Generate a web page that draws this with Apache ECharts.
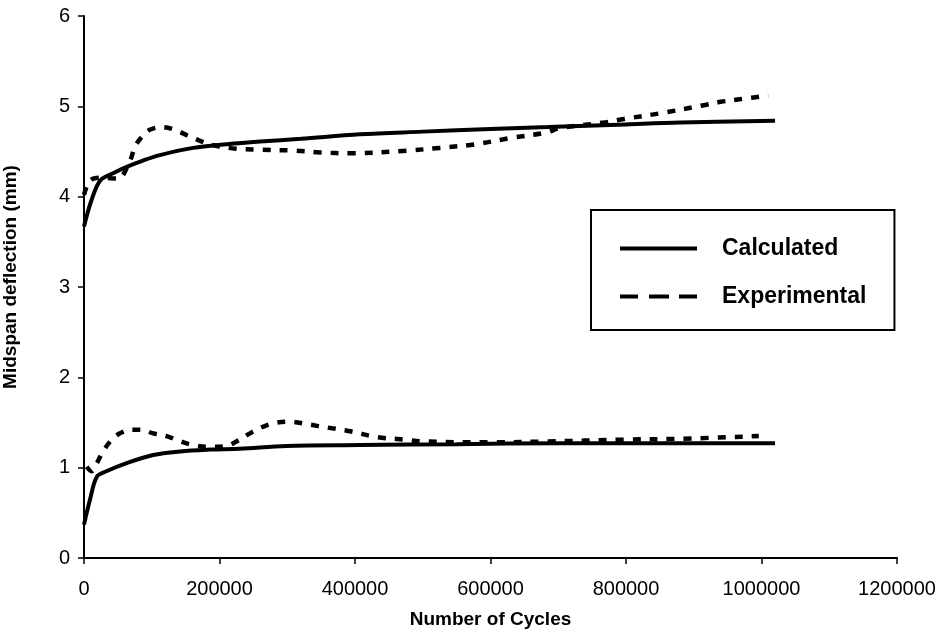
<!DOCTYPE html>
<html>
<head>
<meta charset="utf-8">
<script src="https://cdn.jsdelivr.net/npm/echarts@6/dist/echarts.min.js"></script>
<style>
  html, body { margin: 0; padding: 0; background: #fff; }
  #chart { width: 948px; height: 636px; }
</style>
</head>
<body>
<div id="chart"></div>
<script>
// upper pair (top beam readings)
const calcUpperX = [0, 11000, 24000, 43000, 63000, 87000, 112000, 161000, 211000, 260000, 320000, 407000, 500000, 600000, 685000, 800000, 880000, 1020000]
const calcUpperY = [3.67, 3.96, 4.18, 4.26, 4.33, 4.40, 4.46, 4.54, 4.58, 4.61, 4.64, 4.69, 4.72, 4.75, 4.77, 4.80, 4.82, 4.84]

const expUpperX = [0, 9000, 24000, 50000, 68000, 75000, 85000, 97000, 115000, 134000, 152000, 174000, 191000, 225000, 260000, 309000, 348000, 395000, 477000, 525000, 578000, 630000, 682000, 703000, 767000, 797000, 856000, 913000, 940000, 970000, 1010000]
const expUpperY = [4.02, 4.18, 4.21, 4.20, 4.40, 4.55, 4.66, 4.74, 4.77, 4.74, 4.68, 4.61, 4.57, 4.53, 4.52, 4.51, 4.49, 4.48, 4.51, 4.54, 4.58, 4.65, 4.71, 4.76, 4.82, 4.86, 4.93, 5.01, 5.05, 5.08, 5.12]

// lower pair
const calcLowerX = [0, 9000, 19000, 33000, 63000, 102000, 142000, 186000, 230000, 299000, 407000, 550000, 700000, 850000, 1020000]
const calcLowerY = [0.37, 0.65, 0.90, 0.96, 1.05, 1.14, 1.18, 1.20, 1.21, 1.24, 1.25, 1.26, 1.27, 1.27, 1.27]

const expLowerX = [4000, 11000, 19000, 28000, 41000, 53000, 68000, 83000, 102000, 122000, 139000, 161000, 186000, 211000, 225000, 245000, 260000, 279000, 304000, 323000, 346000, 371000, 395000, 431000, 474000, 502000, 600000, 685000, 794000, 880000, 996000]
const expLowerY = [1.01, 0.96, 1.05, 1.18, 1.31, 1.38, 1.42, 1.42, 1.38, 1.35, 1.30, 1.25, 1.23, 1.24, 1.29, 1.38, 1.44, 1.49, 1.51, 1.49, 1.46, 1.43, 1.40, 1.34, 1.31, 1.29, 1.28, 1.29, 1.31, 1.32, 1.35]

const seriesNames = ['Calculated', 'Experimental']

const FONT = '"Liberation Sans", Arial, Helvetica, sans-serif'

function pairs(xs, ys) {
  return xs.map((x, i) => [x, ys[i]])
}

const solid = { color: '#000', width: 4, type: 'solid' }
const dashed = { color: '#000', width: 4.5, type: [8, 9], cap: 'butt' }

function line(name, data, lineStyle) {
  return {
    name: name,
    type: 'line',
    data: data,
    smooth: 0.35,
    symbol: 'none',
    showSymbol: false,
    color: '#000',
    lineStyle: lineStyle,
  }
}

// legend swatches: a bar and three dashes
const solidIcon = 'path://M0,0h77v4h-77z'
const dashIcon = 'path://M0,0h18v4h-18zM29,0h20v4h-20zM59,0h18v4h-18z'

const chart = echarts.init(document.getElementById('chart'), null, { renderer: 'canvas' })

const option = {
  backgroundColor: '#fff',
  animation: false,
  textStyle: { fontFamily: FONT, color: '#000' },
  grid: {
    left: 84,
    right: 51,
    top: 16,
    bottom: 78,
    outerBoundsMode: 'none',
    containLabel: false,
  },
  legend: {
    orient: 'vertical',
    left: 591,
    top: 210,
    padding: [27, 28, 22, 29],
    itemGap: 25,
    itemWidth: 77,
    itemHeight: 4,
    borderColor: '#000',
    borderWidth: 2,
    backgroundColor: '#fff',
    itemStyle: { color: '#000', borderWidth: 0 },
    textStyle: {
      fontFamily: FONT,
      fontSize: 23,
      fontWeight: 'bold',
      color: '#000',
      padding: [0, 0, 0, 20],
    },
    data: [
      { name: seriesNames[0], icon: solidIcon },
      { name: seriesNames[1], icon: dashIcon },
    ],
  },
  xAxis: {
    type: 'value',
    min: 0,
    max: 1200000,
    interval: 200000,
    name: 'Number of Cycles',
    nameLocation: 'middle',
    nameGap: 52,
    nameTextStyle: { fontFamily: FONT, fontSize: 19, fontWeight: 'bold', color: '#000' },
    axisLine: { show: true, lineStyle: { color: '#000', width: 2 } },
    axisTick: { show: true, inside: false, length: 6, lineStyle: { color: '#000', width: 1.5 } },
    axisLabel: {
      fontFamily: FONT,
      fontSize: 20,
      color: '#000',
      margin: 21,
      formatter: (v) => String(v),
    },
    splitLine: { show: false },
  },
  yAxis: {
    type: 'value',
    min: 0,
    max: 6,
    interval: 1,
    name: 'Midspan deflection (mm)',
    nameLocation: 'middle',
    nameGap: 64,
    nameTextStyle: {
      fontFamily: FONT,
      fontSize: 19,
      fontWeight: 'bold',
      color: '#000',
      padding: [0, 0, 0, 20],
    },
    axisLine: { show: true, lineStyle: { color: '#000', width: 2 } },
    axisTick: { show: true, inside: false, length: 6, lineStyle: { color: '#000', width: 1.5 } },
    axisLabel: { fontFamily: FONT, fontSize: 20, color: '#000', margin: 14 },
    splitLine: { show: false },
  },
  series: [
    line(seriesNames[0], pairs(calcUpperX, calcUpperY), solid),
    line(seriesNames[0], pairs(calcLowerX, calcLowerY), solid),
    line(seriesNames[1], pairs(expUpperX, expUpperY), dashed),
    line(seriesNames[1], pairs(expLowerX, expLowerY), dashed),
  ],
}

chart.setOption(option)
</script>
</body>
</html>
